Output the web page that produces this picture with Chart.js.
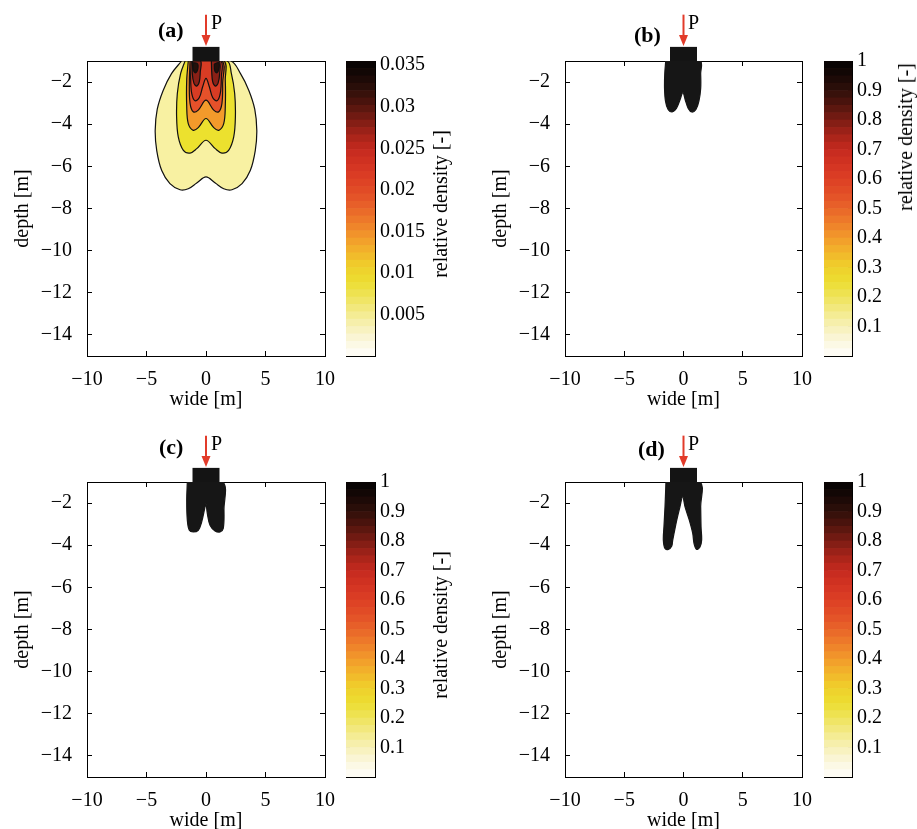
<!DOCTYPE html>
<html>
<head>
<meta charset="utf-8">
<script src="https://cdn.jsdelivr.net/npm/chart.js@4.4.0/dist/chart.umd.min.js"></script>
<style>
  body { margin: 0; background: #fff; width: 917px; height: 829px; overflow: hidden; position: relative;
         font-family: "Liberation Serif", "Times New Roman", serif; }
  canvas { position: absolute; }
  .tag { position: absolute; font-size: 22px; font-weight: bold; line-height: 1; color: #000; }
  .load { position: absolute; font-size: 20px; line-height: 1; color: #000; }
  .cblabel { position: absolute; font-size: 20px; line-height: 1; white-space: nowrap; color: #000;
             transform: translate(-50%, -50%) rotate(-90deg); }
</style>
</head>
<body>
<canvas id="pa" width="335" height="412" style="left:0;top:0"></canvas>
<canvas id="ca" width="100" height="412" style="left:340px;top:0"></canvas>
<canvas id="pb" width="334" height="412" style="left:478px;top:0"></canvas>
<canvas id="cb" width="99" height="412" style="left:818px;top:0"></canvas>
<canvas id="pc" width="335" height="412" style="left:0;top:421px"></canvas>
<canvas id="cc" width="100" height="412" style="left:340px;top:421px"></canvas>
<canvas id="pd" width="334" height="412" style="left:478px;top:421px"></canvas>
<canvas id="cd" width="99" height="412" style="left:818px;top:421px"></canvas>

<div class="tag" style="left:158px;top:19px">(a)</div>
<div class="tag" style="left:634px;top:24px">(b)</div>
<div class="tag" style="left:159px;top:436px">(c)</div>
<div class="tag" style="left:638px;top:438px">(d)</div>
<div class="load" style="left:211px;top:12px">P</div>
<div class="load" style="left:688px;top:12px">P</div>
<div class="load" style="left:211px;top:433px">P</div>
<div class="load" style="left:688px;top:433px">P</div>
<div class="cblabel" style="left:440px;top:204px">relative density [-]</div>
<div class="cblabel" style="left:905px;top:137px">relative density [-]</div>
<div class="cblabel" style="left:440px;top:625px">relative density [-]</div>

<script>
// axes
const xRange = [-10, 10];
const yRange = [-15, -1];
const xTicks = [-10, -5, 0, 5, 10];
const yTicks = [-14, -12, -10, -8, -6, -4, -2];

// colour bars
const cbarMaxA = 0.0355;
const cbarTicksA = [0.005, 0.01, 0.015, 0.02, 0.025, 0.03, 0.035];
const cbarMaxB = 1;
const cbarTicksB = [0.1, 0.2, 0.3, 0.4, 0.5, 0.6, 0.7, 0.8, 0.9, 1];

// footing and load P (x, depth)
const footing = [[0, -1], [0, -0.33]];
const loadArrow = [[0, 1.2], [0, -0.29]];

// (a) filled contour regions, outer to inner
const aLevel1 = [[-2.05,-1],[-2.9,-1.6],[-3.6,-2.4],[-4.1,-3.3],[-4.27,-4.3],[-4.14,-5.25],[-3.72,-6.2],[-3.03,-6.82],[-2.18,-7.11],[-1.49,-7.06],[-0.78,-6.79],[0,-6.5],[0.78,-6.79],[1.49,-7.06],[2.18,-7.11],[3.03,-6.82],[3.72,-6.2],[4.14,-5.25],[4.27,-4.3],[4.1,-3.3],[3.6,-2.4],[2.9,-1.6],[2.05,-1],[-2.05,-1]];
const aLevel2 = [[-1.76,-1],[-2.13,-1.59],[-2.41,-2.54],[-2.47,-3.65],[-2.33,-4.6],[-1.9,-5.24],[-1.34,-5.37],[-0.78,-5.16],[0,-4.76],[0.78,-5.16],[1.34,-5.37],[1.9,-5.24],[2.33,-4.6],[2.47,-3.65],[2.41,-2.54],[2.13,-1.59],[1.76,-1],[-1.76,-1]];
const aLevel3 = [[-1.49,-1],[-1.62,-1.9],[-1.62,-3.18],[-1.49,-3.97],[-1.07,-4.29],[-0.65,-4.16],[0,-3.73],[0.65,-4.16],[1.07,-4.29],[1.49,-3.97],[1.62,-3.18],[1.62,-1.9],[1.49,-1],[-1.49,-1]];
const aLevel4 = [[-1.34,-1],[-1.4,-2.06],[-1.34,-3.01],[-1.07,-3.41],[-0.65,-3.33],[0,-2.86],[0.65,-3.33],[1.07,-3.41],[1.34,-3.01],[1.4,-2.06],[1.34,-1],[-1.34,-1]];
const aLevel5 = [[-1.23,-1],[-1.29,-1.75],[-1.2,-2.54],[-0.92,-2.89],[-0.56,-2.73],[-0.28,-2.22],[0,-1.82],[0.28,-2.22],[0.56,-2.73],[0.92,-2.89],[1.2,-2.54],[1.29,-1.75],[1.23,-1],[-1.23,-1]];
const aLevel6L = [[-1.12,-1],[-1.15,-1.59],[-1.01,-2.06],[-0.78,-2.19],[-0.56,-1.98],[-0.48,-1.51],[-0.45,-1],[-1.12,-1]];
const aLevel6R = [[0.45,-1],[0.48,-1.51],[0.56,-1.98],[0.78,-2.19],[1.01,-2.06],[1.15,-1.59],[1.12,-1],[0.45,-1]];
const aLevel7L = [[-1.07,-1.08],[-1.09,-1.35],[-0.92,-1.56],[-0.73,-1.46],[-0.7,-1.14],[-1.07,-1.08]];
const aLevel7R = [[0.7,-1.14],[0.73,-1.46],[0.92,-1.56],[1.09,-1.35],[1.07,-1.08],[0.7,-1.14]];

// (b), (c), (d) dense zone
const bShape = [[-1.5,-1],[-1.58,-1.6],[-1.6,-2.3],[-1.52,-2.9],[-1.3,-3.3],[-0.95,-3.42],[-0.6,-3.25],[-0.3,-2.85],[-0.05,-2.5],[0.15,-2.85],[0.4,-3.25],[0.7,-3.42],[1.05,-3.3],[1.3,-2.9],[1.45,-2.3],[1.45,-1.6],[1.4,-1],[-1.5,-1]];
const cShape = [[-1.57,-1],[-1.62,-1.86],[-1.57,-2.81],[-1.4,-3.29],[-1.07,-3.37],[-0.65,-3.29],[-0.36,-2.89],[-0.08,-2.18],[0,-2.02],[0.11,-2.49],[0.34,-3.05],[0.76,-3.32],[1.18,-3.37],[1.45,-3.2],[1.51,-2.33],[1.4,-1],[-1.57,-1]];
const dShape = [[-1.48,-1],[-1.56,-2.18],[-1.65,-3.13],[-1.7,-3.76],[-1.56,-4.16],[-1.28,-4.2],[-1.0,-4.05],[-0.91,-3.76],[-0.8,-3.44],[-0.57,-2.81],[-0.3,-2.18],[-0.07,-1.7],[0.13,-2.18],[0.49,-2.81],[0.78,-3.44],[0.89,-3.92],[1.11,-4.2],[1.39,-4.08],[1.53,-3.76],[1.48,-3.13],[1.45,-2.18],[1.39,-1],[-1.48,-1]];

// colormap (fraction of bar, colour), sampled into bands
const cmapStops = [
  [0.00, '#fffefb'], [0.05, '#fbf7de'], [0.10, '#f7f0b6'], [0.15, '#f3ea88'],
  [0.20, '#efe35a'], [0.25, '#ecdd32'], [0.30, '#efd02b'], [0.35, '#f2b62b'],
  [0.40, '#f29a2b'], [0.45, '#ee7e2a'], [0.50, '#e86429'], [0.55, '#e24f27'],
  [0.60, '#dc3f24'], [0.65, '#d33322'], [0.70, '#c42a1f'], [0.75, '#a42319'],
  [0.80, '#7a1c13'], [0.85, '#52150e'], [0.90, '#2f0f0a'], [0.95, '#170906'],
  [1.00, '#050303']
];
const cmapBands = 40;

const ink = '#000';
const red = '#e23b2a';
const dense = '#161616';
const serif = { family: '"Liberation Serif", "Times New Roman", serif', size: 20 };

function minus(v) {
  return v < 0 ? '\u2212' + Math.abs(v) : String(v);
}

function hexToRgb(h) {
  return [1, 3, 5].map(i => parseInt(h.substr(i, 2), 16));
}

function cmapColor(f) {
  for (let i = 1; i < cmapStops.length; i++) {
    const [f1, c1] = cmapStops[i];
    const [f0, c0] = cmapStops[i - 1];
    if (f <= f1) {
      const t = (f - f0) / (f1 - f0);
      const a = hexToRgb(c0), b = hexToRgb(c1);
      const m = a.map((v, k) => Math.round(v + (b[k] - v) * t));
      return `rgb(${m[0]},${m[1]},${m[2]})`;
    }
  }
  return cmapStops[cmapStops.length - 1][1];
}

const bandColors = [];
for (let i = 0; i < cmapBands; i++) bandColors.push(cmapColor((i + 0.5) / cmapBands));

// load arrow above the footing (drawn outside the plot box, so by hand on the scales)
const loadPlugin = {
  id: 'loadArrow',
  afterDatasetsDraw(chart) {
    const { ctx, scales } = chart;
    const px = scales.x.getPixelForValue(loadArrow[0][0]);
    const top = scales.y.getPixelForValue(loadArrow[0][1]);
    const tip = scales.y.getPixelForValue(loadArrow[1][1]);
    ctx.save();
    ctx.strokeStyle = red;
    ctx.fillStyle = red;
    ctx.lineWidth = 2;
    ctx.beginPath();
    ctx.moveTo(px, top);
    ctx.lineTo(px, tip - 8);
    ctx.stroke();
    ctx.beginPath();
    ctx.moveTo(px - 4.5, tip - 11);
    ctx.lineTo(px + 4.5, tip - 11);
    ctx.lineTo(px, tip);
    ctx.closePath();
    ctx.fill();
    ctx.restore();
  }
};

function region(points, fillColor, lineColor, order) {
  return {
    data: points.map(p => ({ x: p[0], y: p[1] })),
    backgroundColor: fillColor,
    borderColor: lineColor,
    borderWidth: 1.2,
    fill: 'shape',
    tension: 0.35,
    pointRadius: 0,
    order: order
  };
}

function footingDataset() {
  return {
    data: footing.map(p => ({ x: p[0], y: p[1] })),
    borderColor: '#141414', borderWidth: 27, borderCapStyle: 'butt',
    fill: false, pointRadius: 0, clip: false, order: 0
  };
}

function axis(position, range, ticks, title) {
  const horizontal = position === 'top' || position === 'bottom';
  const size = { bottom: 56, left: 76, top: 0, right: 0 }[position];
  return {
    type: 'linear', position: position, min: range[0], max: range[1],
    afterBuildTicks: s => { s.ticks = ticks.map(v => ({ value: v })); },
    afterFit: s => {
      if (horizontal) { s.height = size; s.paddingLeft = 0; s.paddingRight = 0; }
      else { s.width = size; s.paddingTop = 0; s.paddingBottom = 0; }
    },
    grid: { drawOnChartArea: false, tickLength: -5, color: ink, lineWidth: 1 },
    border: { color: ink, width: 1 },
    ticks: { display: !!title, font: serif, color: ink, padding: horizontal ? 17 : 20,
             maxRotation: 0, autoSkip: false, callback: v => minus(v) },
    title: { display: !!title, text: title || '', font: serif, color: ink, padding: 0 }
  };
}

function drawPanel(id, regions) {
  const datasets = regions.concat([footingDataset()]);
  new Chart(document.getElementById(id), {
    type: 'line',
    data: { datasets: datasets },
    options: {
      responsive: false, animation: false, events: [],
      layout: { padding: { top: 61, left: 11, right: 10, bottom: 0 } },
      plugins: { legend: { display: false }, tooltip: { enabled: false } },
      scales: {
        x: axis('bottom', xRange, xTicks, 'wide [m]'),
        xTop: axis('top', xRange, xTicks),
        y: axis('left', yRange, yTicks, 'depth [m]'),
        yRight: axis('right', yRange, yTicks)
      }
    },
    plugins: [loadPlugin]
  });
}

function drawColorbar(id, cmax, ticks) {
  const step = cmax / cmapBands;
  const datasets = bandColors.map(c => ({
    data: [step], backgroundColor: c, borderWidth: 0,
    barPercentage: 1, categoryPercentage: 1
  }));
  const edge = pos => ({
    position: pos, grid: { display: false }, ticks: { display: false },
    border: { color: ink, width: 1 },
    afterFit: s => { s.height = 0; s.paddingLeft = 0; s.paddingRight = 0; }
  });
  const side = (pos, labels) => ({
    type: 'linear', position: pos, stacked: true, min: 0, max: cmax,
    afterBuildTicks: s => { s.ticks = ticks.map(v => ({ value: v })); },
    afterFit: s => { s.width = labels ? 65 : 0; s.paddingTop = 0; s.paddingBottom = 0; },
    grid: { drawOnChartArea: false, tickLength: -4, color: ink, lineWidth: 1 },
    border: { color: ink, width: 1 },
    ticks: { display: labels, font: serif, color: ink, padding: 9, autoSkip: false,
             callback: v => String(v) }
  });
  const x = edge('bottom');
  x.stacked = true;
  new Chart(document.getElementById(id), {
    type: 'bar',
    data: { labels: [''], datasets: datasets },
    options: {
      responsive: false, animation: false, events: [],
      layout: { padding: { top: 61, left: 6, right: 0, bottom: 56 } },
      plugins: { legend: { display: false }, tooltip: { enabled: false } },
      scales: {
        x: x,
        xTop: edge('top'),
        y: side('right', true),
        yLeft: side('left', false)
      }
    }
  });
}

drawPanel('pa', [
  region(aLevel1, '#f8f1a2', '#111', 20),
  region(aLevel2, '#ece12e', '#111', 19),
  region(aLevel3, '#f39a2b', '#111', 18),
  region(aLevel4, '#e5512a', '#111', 17),
  region(aLevel5, '#d83c24', '#111', 16),
  region(aLevel6L, '#8a2016', '#111', 15),
  region(aLevel6R, '#8a2016', '#111', 14),
  region(aLevel7L, '#24100b', '#111', 13),
  region(aLevel7R, '#24100b', '#111', 12)
]);
drawPanel('pb', [region(bShape, dense, dense, 10)]);
drawPanel('pc', [region(cShape, dense, dense, 10)]);
drawPanel('pd', [region(dShape, dense, dense, 10)]);

drawColorbar('ca', cbarMaxA, cbarTicksA);
drawColorbar('cb', cbarMaxB, cbarTicksB);
drawColorbar('cc', cbarMaxB, cbarTicksB);
drawColorbar('cd', cbarMaxB, cbarTicksB);
</script>
</body>
</html>
